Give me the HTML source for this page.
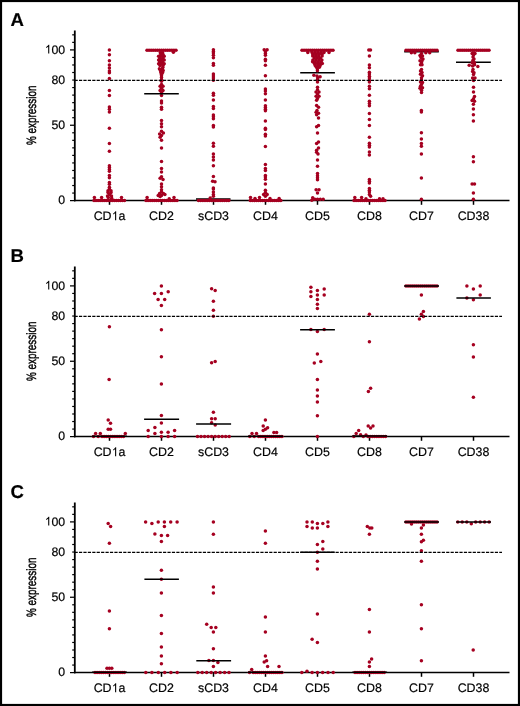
<!DOCTYPE html>
<html><head><meta charset="utf-8"><style>
html,body{margin:0;padding:0;background:#fff;}
svg{display:block;will-change:transform;}
svg text{font-family:"Liberation Sans",sans-serif;fill:#000;text-rendering:geometricPrecision;stroke:#000;stroke-width:0.18px;}
svg circle{fill:#a50020;}
</style></head><body>
<svg width="520" height="706" viewBox="0 0 520 706" font-family="Liberation Sans, sans-serif">
<g fill="#000">
<rect x="1" y="1" width="518" height="704" fill="#fff" stroke="#000" stroke-width="2.2"/>
<text x="10.5" y="25.8" font-size="18.6" font-weight="bold">A</text>
<line x1="74.8" y1="30.5" x2="74.8" y2="201.3" stroke="#000" stroke-width="1.8"/>
<line x1="70" y1="200.6" x2="75" y2="200.6" stroke="#000" stroke-width="1.25"/>
<line x1="72.2" y1="193.065" x2="75" y2="193.065" stroke="#000" stroke-width="1.2"/>
<line x1="72.2" y1="185.53" x2="75" y2="185.53" stroke="#000" stroke-width="1.2"/>
<line x1="72.2" y1="177.995" x2="75" y2="177.995" stroke="#000" stroke-width="1.2"/>
<line x1="72.2" y1="170.46" x2="75" y2="170.46" stroke="#000" stroke-width="1.2"/>
<line x1="72.2" y1="162.925" x2="75" y2="162.925" stroke="#000" stroke-width="1.2"/>
<line x1="72.2" y1="155.39" x2="75" y2="155.39" stroke="#000" stroke-width="1.2"/>
<line x1="72.2" y1="147.855" x2="75" y2="147.855" stroke="#000" stroke-width="1.2"/>
<line x1="72.2" y1="140.32" x2="75" y2="140.32" stroke="#000" stroke-width="1.2"/>
<line x1="72.2" y1="132.785" x2="75" y2="132.785" stroke="#000" stroke-width="1.2"/>
<line x1="70" y1="125.25" x2="75" y2="125.25" stroke="#000" stroke-width="1.25"/>
<line x1="72.2" y1="117.715" x2="75" y2="117.715" stroke="#000" stroke-width="1.2"/>
<line x1="72.2" y1="110.18" x2="75" y2="110.18" stroke="#000" stroke-width="1.2"/>
<line x1="72.2" y1="102.645" x2="75" y2="102.645" stroke="#000" stroke-width="1.2"/>
<line x1="72.2" y1="95.11" x2="75" y2="95.11" stroke="#000" stroke-width="1.2"/>
<line x1="72.2" y1="87.575" x2="75" y2="87.575" stroke="#000" stroke-width="1.2"/>
<line x1="72.2" y1="80.04" x2="75" y2="80.04" stroke="#000" stroke-width="1.2"/>
<line x1="72.2" y1="72.505" x2="75" y2="72.505" stroke="#000" stroke-width="1.2"/>
<line x1="72.2" y1="64.97" x2="75" y2="64.97" stroke="#000" stroke-width="1.2"/>
<line x1="72.2" y1="57.435" x2="75" y2="57.435" stroke="#000" stroke-width="1.2"/>
<line x1="70" y1="49.900000000000006" x2="75" y2="49.900000000000006" stroke="#000" stroke-width="1.25"/>
<line x1="72.2" y1="42.36500000000001" x2="75" y2="42.36500000000001" stroke="#000" stroke-width="1.2"/>
<line x1="72.2" y1="34.83000000000001" x2="75" y2="34.83000000000001" stroke="#000" stroke-width="1.2"/>
<text x="65.2" y="53.50000000000001" font-size="12.3" text-anchor="end">00</text>
<path d="M583 0L763 0L763 1466L646 1466C600 1370 510 1280 400 1200C330 1150 270 1115 240 1100L240 927C330 960 450 1030 583 1130Z" transform="translate(44.68,53.50) scale(0.00601,-0.00601)"/>
<text x="65.2" y="83.61999999999999" font-size="12.3" text-anchor="end">80</text>
<text x="65.2" y="128.8" font-size="12.3" text-anchor="end">50</text>
<text x="65.2" y="204.1" font-size="12.3" text-anchor="end">0</text>
<line x1="74" y1="200.5" x2="509.5" y2="200.5" stroke="#000" stroke-width="1.6"/>
<line x1="109.5" y1="200.5" x2="109.5" y2="204.8" stroke="#000" stroke-width="1.5"/>
<text x="93.65" y="220.2" font-size="12.4">CD</text>
<path d="M583 0L763 0L763 1466L646 1466C600 1370 510 1280 400 1200C330 1150 270 1115 240 1100L240 927C330 960 450 1030 583 1130Z" transform="translate(111.56,220.20) scale(0.00605,-0.00605)"/>
<text x="118.45" y="220.2" font-size="12.4">a</text>
<line x1="161.5" y1="200.5" x2="161.5" y2="204.8" stroke="#000" stroke-width="1.5"/>
<text x="161.5" y="220.2" font-size="12.4" text-anchor="middle">CD2</text>
<line x1="213.5" y1="200.5" x2="213.5" y2="204.8" stroke="#000" stroke-width="1.5"/>
<text x="213.5" y="220.2" font-size="12.4" text-anchor="middle">sCD3</text>
<line x1="265.5" y1="200.5" x2="265.5" y2="204.8" stroke="#000" stroke-width="1.5"/>
<text x="265.5" y="220.2" font-size="12.4" text-anchor="middle">CD4</text>
<line x1="317.5" y1="200.5" x2="317.5" y2="204.8" stroke="#000" stroke-width="1.5"/>
<text x="317.5" y="220.2" font-size="12.4" text-anchor="middle">CD5</text>
<line x1="369.5" y1="200.5" x2="369.5" y2="204.8" stroke="#000" stroke-width="1.5"/>
<text x="369.5" y="220.2" font-size="12.4" text-anchor="middle">CD8</text>
<line x1="421.5" y1="200.5" x2="421.5" y2="204.8" stroke="#000" stroke-width="1.5"/>
<text x="421.5" y="220.2" font-size="12.4" text-anchor="middle">CD7</text>
<line x1="473.5" y1="200.5" x2="473.5" y2="204.8" stroke="#000" stroke-width="1.5"/>
<text x="473.5" y="220.2" font-size="12.4" text-anchor="middle">CD38</text>
<text transform="translate(35.6,115.3) rotate(-90) scale(0.734,1)" font-size="13.5" text-anchor="middle" style="stroke-width:0.45px">% expression</text>
<line x1="404.2" y1="51.8" x2="438.8" y2="51.8" stroke="#000" stroke-width="1.5"/>
<line x1="300.2" y1="72.8" x2="334.9" y2="72.8" stroke="#000" stroke-width="1.5"/>
<line x1="456" y1="62.15" x2="490.8" y2="62.15" stroke="#000" stroke-width="1.5"/>
<line x1="196" y1="198.9" x2="230.5" y2="198.9" stroke="#000" stroke-width="1.5"/>
<circle cx="109.4" cy="49.9" r="1.75"/>
<circle cx="109.4" cy="54.8" r="1.75"/>
<circle cx="109.4" cy="60.7" r="1.75"/>
<circle cx="109.4" cy="65.1" r="1.75"/>
<circle cx="109.4" cy="67.9" r="1.75"/>
<circle cx="109.4" cy="70.9" r="1.75"/>
<circle cx="109.4" cy="72.7" r="1.75"/>
<circle cx="109.4" cy="78.4" r="1.75"/>
<circle cx="109.4" cy="90.5" r="1.75"/>
<circle cx="109.4" cy="95.4" r="1.75"/>
<circle cx="109.4" cy="106.9" r="1.75"/>
<circle cx="109.4" cy="109.2" r="1.75"/>
<circle cx="109.4" cy="112" r="1.75"/>
<circle cx="109.4" cy="128.3" r="1.75"/>
<circle cx="109.4" cy="143.5" r="1.75"/>
<circle cx="109.4" cy="151.2" r="1.75"/>
<circle cx="109.4" cy="165.8" r="1.75"/>
<circle cx="109.4" cy="167.6" r="1.75"/>
<circle cx="109.4" cy="169.4" r="1.75"/>
<circle cx="109.4" cy="171.2" r="1.75"/>
<circle cx="109.4" cy="175.4" r="1.75"/>
<circle cx="109.4" cy="177.7" r="1.75"/>
<circle cx="109.4" cy="182.5" r="1.75"/>
<circle cx="109.4" cy="184.3" r="1.75"/>
<circle cx="109.4" cy="187.3" r="1.75"/>
<circle cx="109.4" cy="189" r="1.75"/>
<circle cx="108" cy="190.8" r="1.75"/>
<circle cx="111" cy="190.8" r="1.75"/>
<circle cx="108" cy="192.6" r="1.75"/>
<circle cx="111" cy="192.6" r="1.75"/>
<circle cx="109.5" cy="194.5" r="1.75"/>
<circle cx="107.5" cy="196" r="1.75"/>
<circle cx="111.5" cy="196" r="1.75"/>
<circle cx="94.4" cy="197.6" r="1.75"/>
<circle cx="101.6" cy="197.6" r="1.75"/>
<circle cx="108.3" cy="197.6" r="1.75"/>
<circle cx="111.7" cy="198.2" r="1.75"/>
<circle cx="121.5" cy="197.6" r="1.75"/>
<circle cx="94.0" cy="200.6" r="1.75"/>
<circle cx="96.03" cy="200.6" r="1.75"/>
<circle cx="98.07" cy="200.6" r="1.75"/>
<circle cx="100.1" cy="200.6" r="1.75"/>
<circle cx="102.13" cy="200.6" r="1.75"/>
<circle cx="104.17" cy="200.6" r="1.75"/>
<circle cx="106.2" cy="200.6" r="1.75"/>
<circle cx="108.23" cy="200.6" r="1.75"/>
<circle cx="110.27" cy="200.6" r="1.75"/>
<circle cx="112.3" cy="200.6" r="1.75"/>
<circle cx="114.33" cy="200.6" r="1.75"/>
<circle cx="116.37" cy="200.6" r="1.75"/>
<circle cx="118.4" cy="200.6" r="1.75"/>
<circle cx="120.43" cy="200.6" r="1.75"/>
<circle cx="122.47" cy="200.6" r="1.75"/>
<circle cx="124.5" cy="200.6" r="1.75"/>
<circle cx="147.0" cy="50.2" r="1.75"/>
<circle cx="149.07" cy="50.2" r="1.75"/>
<circle cx="151.14" cy="50.2" r="1.75"/>
<circle cx="153.21" cy="50.2" r="1.75"/>
<circle cx="155.29" cy="50.2" r="1.75"/>
<circle cx="157.36" cy="50.2" r="1.75"/>
<circle cx="159.43" cy="50.2" r="1.75"/>
<circle cx="161.5" cy="50.2" r="1.75"/>
<circle cx="163.57" cy="50.2" r="1.75"/>
<circle cx="165.64" cy="50.2" r="1.75"/>
<circle cx="167.71" cy="50.2" r="1.75"/>
<circle cx="169.79" cy="50.2" r="1.75"/>
<circle cx="171.86" cy="50.2" r="1.75"/>
<circle cx="173.93" cy="50.2" r="1.75"/>
<circle cx="176.0" cy="50.2" r="1.75"/>
<circle cx="173.4" cy="52.2" r="1.75"/>
<circle cx="160.3" cy="52.8" r="1.75"/>
<circle cx="162.6" cy="52.8" r="1.75"/>
<circle cx="160.8" cy="54.4" r="1.75"/>
<circle cx="163" cy="54.4" r="1.75"/>
<circle cx="158.6" cy="56.3" r="1.75"/>
<circle cx="161.4" cy="56.3" r="1.75"/>
<circle cx="164.2" cy="56.3" r="1.75"/>
<circle cx="159.8" cy="58.2" r="1.75"/>
<circle cx="162.8" cy="58.2" r="1.75"/>
<circle cx="158.6" cy="60.0" r="1.75"/>
<circle cx="161.4" cy="60.0" r="1.75"/>
<circle cx="164.2" cy="60.0" r="1.75"/>
<circle cx="159.6" cy="61.9" r="1.75"/>
<circle cx="162.6" cy="61.9" r="1.75"/>
<circle cx="158.6" cy="63.7" r="1.75"/>
<circle cx="161.4" cy="63.7" r="1.75"/>
<circle cx="164.2" cy="63.7" r="1.75"/>
<circle cx="160" cy="65.6" r="1.75"/>
<circle cx="163" cy="65.6" r="1.75"/>
<circle cx="162.8" cy="67.2" r="1.75"/>
<circle cx="159.4" cy="68.8" r="1.75"/>
<circle cx="162.4" cy="68.8" r="1.75"/>
<circle cx="160.4" cy="70.6" r="1.75"/>
<circle cx="163.2" cy="70.6" r="1.75"/>
<circle cx="160.8" cy="72.4" r="1.75"/>
<circle cx="162.6" cy="72.4" r="1.75"/>
<circle cx="161.5" cy="74.2" r="1.75"/>
<circle cx="161.5" cy="75.8" r="1.75"/>
<circle cx="161.5" cy="77.6" r="1.75"/>
<circle cx="161.5" cy="79.4" r="1.75"/>
<circle cx="161.5" cy="81.2" r="1.75"/>
<circle cx="161.5" cy="84.4" r="1.75"/>
<circle cx="160.1" cy="86.3" r="1.75"/>
<circle cx="163" cy="86.3" r="1.75"/>
<circle cx="161.5" cy="88.2" r="1.75"/>
<circle cx="160.1" cy="90.6" r="1.75"/>
<circle cx="163" cy="90.6" r="1.75"/>
<circle cx="161.5" cy="92.6" r="1.75"/>
<circle cx="161.5" cy="95.5" r="1.75"/>
<circle cx="161.5" cy="101" r="1.75"/>
<circle cx="161.5" cy="102.9" r="1.75"/>
<circle cx="161.5" cy="107.3" r="1.75"/>
<circle cx="161.5" cy="109.2" r="1.75"/>
<circle cx="161.5" cy="120.5" r="1.75"/>
<circle cx="161.5" cy="123.7" r="1.75"/>
<circle cx="161.5" cy="126.7" r="1.75"/>
<circle cx="161.5" cy="131.3" r="1.75"/>
<circle cx="161.5" cy="135.4" r="1.75"/>
<circle cx="161.5" cy="140.2" r="1.75"/>
<circle cx="161.5" cy="147.9" r="1.75"/>
<circle cx="161.5" cy="161.5" r="1.75"/>
<circle cx="161.5" cy="168.6" r="1.75"/>
<circle cx="161.5" cy="171.9" r="1.75"/>
<circle cx="161.5" cy="176.7" r="1.75"/>
<circle cx="161.5" cy="184" r="1.75"/>
<circle cx="161.5" cy="186.8" r="1.75"/>
<circle cx="161.5" cy="189.7" r="1.75"/>
<circle cx="161.5" cy="192.1" r="1.75"/>
<circle cx="161.5" cy="195.5" r="1.75"/>
<circle cx="159.6" cy="133.9" r="1.75"/>
<circle cx="163.4" cy="133" r="1.75"/>
<circle cx="160.1" cy="137.3" r="1.75"/>
<circle cx="160.1" cy="178.2" r="1.75"/>
<circle cx="163" cy="179.4" r="1.75"/>
<circle cx="159.6" cy="193.6" r="1.75"/>
<circle cx="163.4" cy="193.6" r="1.75"/>
<circle cx="158.2" cy="195.5" r="1.75"/>
<circle cx="164.9" cy="194.5" r="1.75"/>
<circle cx="160.1" cy="196.4" r="1.75"/>
<circle cx="147.1" cy="197.6" r="1.75"/>
<circle cx="174" cy="197.6" r="1.75"/>
<circle cx="169.2" cy="198.8" r="1.75"/>
<circle cx="146.0" cy="200.6" r="1.75"/>
<circle cx="148.07" cy="200.6" r="1.75"/>
<circle cx="150.13" cy="200.6" r="1.75"/>
<circle cx="152.2" cy="200.6" r="1.75"/>
<circle cx="154.27" cy="200.6" r="1.75"/>
<circle cx="156.33" cy="200.6" r="1.75"/>
<circle cx="158.4" cy="200.6" r="1.75"/>
<circle cx="160.47" cy="200.6" r="1.75"/>
<circle cx="162.53" cy="200.6" r="1.75"/>
<circle cx="164.6" cy="200.6" r="1.75"/>
<circle cx="166.67" cy="200.6" r="1.75"/>
<circle cx="168.73" cy="200.6" r="1.75"/>
<circle cx="170.8" cy="200.6" r="1.75"/>
<circle cx="172.87" cy="200.6" r="1.75"/>
<circle cx="174.93" cy="200.6" r="1.75"/>
<circle cx="177.0" cy="200.6" r="1.75"/>
<circle cx="213.4" cy="49.7" r="1.75"/>
<circle cx="213.4" cy="51.4" r="1.75"/>
<circle cx="213.4" cy="53.1" r="1.75"/>
<circle cx="213.4" cy="55.3" r="1.75"/>
<circle cx="213.4" cy="57.8" r="1.75"/>
<circle cx="213.4" cy="63.5" r="1.75"/>
<circle cx="213.4" cy="65.3" r="1.75"/>
<circle cx="213.4" cy="74.1" r="1.75"/>
<circle cx="213.4" cy="76.1" r="1.75"/>
<circle cx="213.4" cy="78" r="1.75"/>
<circle cx="213.4" cy="80.3" r="1.75"/>
<circle cx="213.4" cy="93.3" r="1.75"/>
<circle cx="213.4" cy="95.2" r="1.75"/>
<circle cx="213.4" cy="99.9" r="1.75"/>
<circle cx="213.4" cy="106.6" r="1.75"/>
<circle cx="213.4" cy="108.6" r="1.75"/>
<circle cx="213.4" cy="114.9" r="1.75"/>
<circle cx="213.4" cy="116.8" r="1.75"/>
<circle cx="213.4" cy="118.8" r="1.75"/>
<circle cx="213.4" cy="125.4" r="1.75"/>
<circle cx="213.4" cy="126.9" r="1.75"/>
<circle cx="213.4" cy="143.2" r="1.75"/>
<circle cx="213.4" cy="146.2" r="1.75"/>
<circle cx="213.4" cy="153.9" r="1.75"/>
<circle cx="213.4" cy="156.9" r="1.75"/>
<circle cx="213.4" cy="159.9" r="1.75"/>
<circle cx="213.4" cy="165.8" r="1.75"/>
<circle cx="213.4" cy="176.5" r="1.75"/>
<circle cx="213.4" cy="187.9" r="1.75"/>
<circle cx="213.4" cy="189" r="1.75"/>
<circle cx="213.4" cy="192" r="1.75"/>
<circle cx="213.4" cy="194.4" r="1.75"/>
<circle cx="213.4" cy="196.2" r="1.75"/>
<circle cx="212.6" cy="181.3" r="1.75"/>
<circle cx="215" cy="181.8" r="1.75"/>
<circle cx="210.2" cy="198" r="1.75"/>
<circle cx="198.5" cy="200.6" r="1.75"/>
<circle cx="200.66" cy="200.6" r="1.75"/>
<circle cx="202.83" cy="200.6" r="1.75"/>
<circle cx="204.99" cy="200.6" r="1.75"/>
<circle cx="207.16" cy="200.6" r="1.75"/>
<circle cx="209.32" cy="200.6" r="1.75"/>
<circle cx="211.49" cy="200.6" r="1.75"/>
<circle cx="213.65" cy="200.6" r="1.75"/>
<circle cx="215.81" cy="200.6" r="1.75"/>
<circle cx="217.98" cy="200.6" r="1.75"/>
<circle cx="220.14" cy="200.6" r="1.75"/>
<circle cx="222.31" cy="200.6" r="1.75"/>
<circle cx="224.47" cy="200.6" r="1.75"/>
<circle cx="226.64" cy="200.6" r="1.75"/>
<circle cx="228.8" cy="200.6" r="1.75"/>
<circle cx="264.2" cy="49.7" r="1.75"/>
<circle cx="267.1" cy="49.7" r="1.75"/>
<circle cx="265.4" cy="51.7" r="1.75"/>
<circle cx="265.4" cy="53.6" r="1.75"/>
<circle cx="265.4" cy="55.3" r="1.75"/>
<circle cx="265.4" cy="59.3" r="1.75"/>
<circle cx="265.4" cy="60.8" r="1.75"/>
<circle cx="265.4" cy="65.2" r="1.75"/>
<circle cx="265.4" cy="75.7" r="1.75"/>
<circle cx="265.4" cy="89.1" r="1.75"/>
<circle cx="265.4" cy="91" r="1.75"/>
<circle cx="265.4" cy="93.7" r="1.75"/>
<circle cx="265.4" cy="99.9" r="1.75"/>
<circle cx="265.4" cy="105.8" r="1.75"/>
<circle cx="265.4" cy="107.5" r="1.75"/>
<circle cx="265.4" cy="109.2" r="1.75"/>
<circle cx="265.4" cy="110.7" r="1.75"/>
<circle cx="265.4" cy="120.9" r="1.75"/>
<circle cx="265.4" cy="128.3" r="1.75"/>
<circle cx="265.4" cy="129.5" r="1.75"/>
<circle cx="265.4" cy="134.3" r="1.75"/>
<circle cx="265.4" cy="136.1" r="1.75"/>
<circle cx="265.4" cy="146.4" r="1.75"/>
<circle cx="265.4" cy="164.6" r="1.75"/>
<circle cx="265.4" cy="168.6" r="1.75"/>
<circle cx="265.4" cy="170.6" r="1.75"/>
<circle cx="265.4" cy="175.4" r="1.75"/>
<circle cx="265.4" cy="177.1" r="1.75"/>
<circle cx="265.4" cy="179.2" r="1.75"/>
<circle cx="265.4" cy="184" r="1.75"/>
<circle cx="265.4" cy="190.2" r="1.75"/>
<circle cx="265.4" cy="192.4" r="1.75"/>
<circle cx="265.4" cy="196.2" r="1.75"/>
<circle cx="263.6" cy="194.4" r="1.75"/>
<circle cx="267.2" cy="194.4" r="1.75"/>
<circle cx="250.5" cy="197.4" r="1.75"/>
<circle cx="259.5" cy="197.4" r="1.75"/>
<circle cx="279.1" cy="198.6" r="1.75"/>
<circle cx="255" cy="198.6" r="1.75"/>
<circle cx="270" cy="198.6" r="1.75"/>
<circle cx="250.3" cy="200.6" r="1.75"/>
<circle cx="252.33" cy="200.6" r="1.75"/>
<circle cx="254.37" cy="200.6" r="1.75"/>
<circle cx="256.4" cy="200.6" r="1.75"/>
<circle cx="258.43" cy="200.6" r="1.75"/>
<circle cx="260.47" cy="200.6" r="1.75"/>
<circle cx="262.5" cy="200.6" r="1.75"/>
<circle cx="264.53" cy="200.6" r="1.75"/>
<circle cx="266.57" cy="200.6" r="1.75"/>
<circle cx="268.6" cy="200.6" r="1.75"/>
<circle cx="270.63" cy="200.6" r="1.75"/>
<circle cx="272.67" cy="200.6" r="1.75"/>
<circle cx="274.7" cy="200.6" r="1.75"/>
<circle cx="276.73" cy="200.6" r="1.75"/>
<circle cx="278.77" cy="200.6" r="1.75"/>
<circle cx="280.8" cy="200.6" r="1.75"/>
<circle cx="302.0" cy="50.2" r="1.75"/>
<circle cx="304.07" cy="50.2" r="1.75"/>
<circle cx="306.13" cy="50.2" r="1.75"/>
<circle cx="308.2" cy="50.2" r="1.75"/>
<circle cx="310.27" cy="50.2" r="1.75"/>
<circle cx="312.33" cy="50.2" r="1.75"/>
<circle cx="314.4" cy="50.2" r="1.75"/>
<circle cx="316.47" cy="50.2" r="1.75"/>
<circle cx="318.53" cy="50.2" r="1.75"/>
<circle cx="320.6" cy="50.2" r="1.75"/>
<circle cx="322.67" cy="50.2" r="1.75"/>
<circle cx="324.73" cy="50.2" r="1.75"/>
<circle cx="326.8" cy="50.2" r="1.75"/>
<circle cx="328.87" cy="50.2" r="1.75"/>
<circle cx="330.93" cy="50.2" r="1.75"/>
<circle cx="333.0" cy="50.2" r="1.75"/>
<circle cx="307.8" cy="52.4" r="1.75"/>
<circle cx="312" cy="52.4" r="1.75"/>
<circle cx="315" cy="52.4" r="1.75"/>
<circle cx="318" cy="52.4" r="1.75"/>
<circle cx="321" cy="52.4" r="1.75"/>
<circle cx="324" cy="52.4" r="1.75"/>
<circle cx="329" cy="52.4" r="1.75"/>
<circle cx="312.9" cy="54.2" r="1.75"/>
<circle cx="315.9" cy="54.2" r="1.75"/>
<circle cx="318.9" cy="54.2" r="1.75"/>
<circle cx="321.9" cy="54.2" r="1.75"/>
<circle cx="312.7" cy="56.0" r="1.75"/>
<circle cx="315.6" cy="56.0" r="1.75"/>
<circle cx="318.6" cy="56.0" r="1.75"/>
<circle cx="322.1" cy="56.0" r="1.75"/>
<circle cx="314.4" cy="58.0" r="1.75"/>
<circle cx="317.4" cy="58.0" r="1.75"/>
<circle cx="320.4" cy="58.0" r="1.75"/>
<circle cx="312.9" cy="59.9" r="1.75"/>
<circle cx="315.9" cy="59.9" r="1.75"/>
<circle cx="318.9" cy="59.9" r="1.75"/>
<circle cx="321.9" cy="59.9" r="1.75"/>
<circle cx="312.6" cy="61.8" r="1.75"/>
<circle cx="315.2" cy="61.8" r="1.75"/>
<circle cx="318.2" cy="61.8" r="1.75"/>
<circle cx="321.2" cy="61.8" r="1.75"/>
<circle cx="314.4" cy="63.6" r="1.75"/>
<circle cx="317.4" cy="63.6" r="1.75"/>
<circle cx="320.4" cy="63.6" r="1.75"/>
<circle cx="322.3" cy="63.6" r="1.75"/>
<circle cx="315.2" cy="65.5" r="1.75"/>
<circle cx="318.2" cy="65.5" r="1.75"/>
<circle cx="320.2" cy="65.5" r="1.75"/>
<circle cx="316.5" cy="67.3" r="1.75"/>
<circle cx="319.3" cy="67.3" r="1.75"/>
<circle cx="317.4" cy="69.1" r="1.75"/>
<circle cx="317.4" cy="70.7" r="1.75"/>
<circle cx="313.9" cy="75.2" r="1.75"/>
<circle cx="317" cy="75.9" r="1.75"/>
<circle cx="320.1" cy="76.7" r="1.75"/>
<circle cx="317.8" cy="77.8" r="1.75"/>
<circle cx="317.5" cy="79.6" r="1.75"/>
<circle cx="317.5" cy="82" r="1.75"/>
<circle cx="317.5" cy="87.3" r="1.75"/>
<circle cx="317.5" cy="89.7" r="1.75"/>
<circle cx="316" cy="92.1" r="1.75"/>
<circle cx="319" cy="92.1" r="1.75"/>
<circle cx="317.5" cy="94" r="1.75"/>
<circle cx="316.1" cy="96.2" r="1.75"/>
<circle cx="319" cy="96.2" r="1.75"/>
<circle cx="317.5" cy="98.4" r="1.75"/>
<circle cx="316.6" cy="100.3" r="1.75"/>
<circle cx="316.6" cy="105.6" r="1.75"/>
<circle cx="318.5" cy="107.3" r="1.75"/>
<circle cx="317" cy="110.4" r="1.75"/>
<circle cx="316.1" cy="112.3" r="1.75"/>
<circle cx="318.5" cy="113.3" r="1.75"/>
<circle cx="316.6" cy="114.7" r="1.75"/>
<circle cx="318.5" cy="117.9" r="1.75"/>
<circle cx="318.5" cy="125.6" r="1.75"/>
<circle cx="316.6" cy="126.7" r="1.75"/>
<circle cx="317.5" cy="133" r="1.75"/>
<circle cx="318.5" cy="141.9" r="1.75"/>
<circle cx="316.6" cy="143.6" r="1.75"/>
<circle cx="318.5" cy="147.9" r="1.75"/>
<circle cx="316.6" cy="150.3" r="1.75"/>
<circle cx="316.6" cy="152.2" r="1.75"/>
<circle cx="318" cy="154.1" r="1.75"/>
<circle cx="317.5" cy="159.9" r="1.75"/>
<circle cx="317.5" cy="166.2" r="1.75"/>
<circle cx="317.5" cy="173.4" r="1.75"/>
<circle cx="317.5" cy="175.8" r="1.75"/>
<circle cx="317.5" cy="177.7" r="1.75"/>
<circle cx="317.5" cy="179.8" r="1.75"/>
<circle cx="316.1" cy="189.7" r="1.75"/>
<circle cx="319" cy="189.7" r="1.75"/>
<circle cx="317.5" cy="193.1" r="1.75"/>
<circle cx="312.7" cy="197.7" r="1.75"/>
<circle cx="314.8" cy="199.2" r="1.75"/>
<circle cx="317.5" cy="199.2" r="1.75"/>
<circle cx="320.3" cy="199.2" r="1.75"/>
<circle cx="323.2" cy="199.2" r="1.75"/>
<circle cx="311.8" cy="200.3" r="1.75"/>
<circle cx="368.8" cy="49.9" r="1.75"/>
<circle cx="370.5" cy="49.9" r="1.75"/>
<circle cx="369.4" cy="55.9" r="1.75"/>
<circle cx="369.4" cy="65" r="1.75"/>
<circle cx="369.4" cy="67.8" r="1.75"/>
<circle cx="369.4" cy="72.3" r="1.75"/>
<circle cx="369.4" cy="74" r="1.75"/>
<circle cx="369.4" cy="76.3" r="1.75"/>
<circle cx="369.4" cy="78" r="1.75"/>
<circle cx="369.4" cy="80.3" r="1.75"/>
<circle cx="369.4" cy="82" r="1.75"/>
<circle cx="369.4" cy="86.2" r="1.75"/>
<circle cx="369.4" cy="88.8" r="1.75"/>
<circle cx="369.4" cy="95.2" r="1.75"/>
<circle cx="369.4" cy="101.3" r="1.75"/>
<circle cx="369.4" cy="103.5" r="1.75"/>
<circle cx="369.4" cy="105.8" r="1.75"/>
<circle cx="369.4" cy="113.4" r="1.75"/>
<circle cx="369.4" cy="119.4" r="1.75"/>
<circle cx="369.4" cy="125.4" r="1.75"/>
<circle cx="369.4" cy="137.3" r="1.75"/>
<circle cx="369.4" cy="143.2" r="1.75"/>
<circle cx="369.4" cy="145.2" r="1.75"/>
<circle cx="369.4" cy="147.1" r="1.75"/>
<circle cx="369.4" cy="152.1" r="1.75"/>
<circle cx="369.4" cy="155.1" r="1.75"/>
<circle cx="369.4" cy="179.5" r="1.75"/>
<circle cx="369.4" cy="181.3" r="1.75"/>
<circle cx="369.4" cy="183.1" r="1.75"/>
<circle cx="369.4" cy="188.5" r="1.75"/>
<circle cx="369.4" cy="190.2" r="1.75"/>
<circle cx="369.4" cy="192" r="1.75"/>
<circle cx="369.4" cy="194.4" r="1.75"/>
<circle cx="370.6" cy="196.2" r="1.75"/>
<circle cx="354.8" cy="197.6" r="1.75"/>
<circle cx="361.6" cy="197.6" r="1.75"/>
<circle cx="366" cy="198.8" r="1.75"/>
<circle cx="379.5" cy="198.8" r="1.75"/>
<circle cx="383" cy="198.8" r="1.75"/>
<circle cx="354.0" cy="200.6" r="1.75"/>
<circle cx="356.07" cy="200.6" r="1.75"/>
<circle cx="358.13" cy="200.6" r="1.75"/>
<circle cx="360.2" cy="200.6" r="1.75"/>
<circle cx="362.27" cy="200.6" r="1.75"/>
<circle cx="364.33" cy="200.6" r="1.75"/>
<circle cx="366.4" cy="200.6" r="1.75"/>
<circle cx="368.47" cy="200.6" r="1.75"/>
<circle cx="370.53" cy="200.6" r="1.75"/>
<circle cx="372.6" cy="200.6" r="1.75"/>
<circle cx="374.67" cy="200.6" r="1.75"/>
<circle cx="376.73" cy="200.6" r="1.75"/>
<circle cx="378.8" cy="200.6" r="1.75"/>
<circle cx="380.87" cy="200.6" r="1.75"/>
<circle cx="382.93" cy="200.6" r="1.75"/>
<circle cx="385.0" cy="200.6" r="1.75"/>
<circle cx="406.0" cy="50.2" r="1.75"/>
<circle cx="408.07" cy="50.2" r="1.75"/>
<circle cx="410.13" cy="50.2" r="1.75"/>
<circle cx="412.2" cy="50.2" r="1.75"/>
<circle cx="414.27" cy="50.2" r="1.75"/>
<circle cx="416.33" cy="50.2" r="1.75"/>
<circle cx="418.4" cy="50.2" r="1.75"/>
<circle cx="420.47" cy="50.2" r="1.75"/>
<circle cx="422.53" cy="50.2" r="1.75"/>
<circle cx="424.6" cy="50.2" r="1.75"/>
<circle cx="426.67" cy="50.2" r="1.75"/>
<circle cx="428.73" cy="50.2" r="1.75"/>
<circle cx="430.8" cy="50.2" r="1.75"/>
<circle cx="432.87" cy="50.2" r="1.75"/>
<circle cx="434.93" cy="50.2" r="1.75"/>
<circle cx="437.0" cy="50.2" r="1.75"/>
<circle cx="411.4" cy="52.7" r="1.75"/>
<circle cx="414.8" cy="52.7" r="1.75"/>
<circle cx="425.8" cy="52.7" r="1.75"/>
<circle cx="429.7" cy="52.7" r="1.75"/>
<circle cx="421.5" cy="53.6" r="1.75"/>
<circle cx="420" cy="55.5" r="1.75"/>
<circle cx="422.5" cy="56" r="1.75"/>
<circle cx="421" cy="57.5" r="1.75"/>
<circle cx="423" cy="58.9" r="1.75"/>
<circle cx="420" cy="60.8" r="1.75"/>
<circle cx="422" cy="60.8" r="1.75"/>
<circle cx="421.5" cy="62.8" r="1.75"/>
<circle cx="420.5" cy="64.7" r="1.75"/>
<circle cx="422" cy="64.7" r="1.75"/>
<circle cx="421.5" cy="69.6" r="1.75"/>
<circle cx="420.5" cy="70.9" r="1.75"/>
<circle cx="422" cy="72.4" r="1.75"/>
<circle cx="420.5" cy="74.3" r="1.75"/>
<circle cx="422.5" cy="75.7" r="1.75"/>
<circle cx="421.5" cy="77.7" r="1.75"/>
<circle cx="421.5" cy="80" r="1.75"/>
<circle cx="420.5" cy="82" r="1.75"/>
<circle cx="422.5" cy="82.5" r="1.75"/>
<circle cx="421.5" cy="84.4" r="1.75"/>
<circle cx="420.5" cy="86.3" r="1.75"/>
<circle cx="422.5" cy="87.8" r="1.75"/>
<circle cx="420" cy="88.2" r="1.75"/>
<circle cx="421.5" cy="90.2" r="1.75"/>
<circle cx="421.5" cy="92.6" r="1.75"/>
<circle cx="421.4" cy="110.4" r="1.75"/>
<circle cx="421.4" cy="112" r="1.75"/>
<circle cx="421.4" cy="132.8" r="1.75"/>
<circle cx="421.4" cy="139" r="1.75"/>
<circle cx="421.4" cy="143.6" r="1.75"/>
<circle cx="421.4" cy="146.2" r="1.75"/>
<circle cx="421.4" cy="154" r="1.75"/>
<circle cx="421.4" cy="178" r="1.75"/>
<circle cx="421.4" cy="199.2" r="1.75"/>
<circle cx="458.0" cy="50.2" r="1.75"/>
<circle cx="460.07" cy="50.2" r="1.75"/>
<circle cx="462.13" cy="50.2" r="1.75"/>
<circle cx="464.2" cy="50.2" r="1.75"/>
<circle cx="466.27" cy="50.2" r="1.75"/>
<circle cx="468.33" cy="50.2" r="1.75"/>
<circle cx="470.4" cy="50.2" r="1.75"/>
<circle cx="472.47" cy="50.2" r="1.75"/>
<circle cx="474.53" cy="50.2" r="1.75"/>
<circle cx="476.6" cy="50.2" r="1.75"/>
<circle cx="478.67" cy="50.2" r="1.75"/>
<circle cx="480.73" cy="50.2" r="1.75"/>
<circle cx="482.8" cy="50.2" r="1.75"/>
<circle cx="484.87" cy="50.2" r="1.75"/>
<circle cx="486.93" cy="50.2" r="1.75"/>
<circle cx="489.0" cy="50.2" r="1.75"/>
<circle cx="473.5" cy="53.1" r="1.75"/>
<circle cx="472.1" cy="53.6" r="1.75"/>
<circle cx="475" cy="53.6" r="1.75"/>
<circle cx="473.5" cy="55.1" r="1.75"/>
<circle cx="473" cy="57" r="1.75"/>
<circle cx="474" cy="58.9" r="1.75"/>
<circle cx="473" cy="60.3" r="1.75"/>
<circle cx="472.1" cy="62.8" r="1.75"/>
<circle cx="474.5" cy="62.8" r="1.75"/>
<circle cx="474.5" cy="64.7" r="1.75"/>
<circle cx="469.2" cy="65.2" r="1.75"/>
<circle cx="472.6" cy="66.1" r="1.75"/>
<circle cx="477.8" cy="66.6" r="1.75"/>
<circle cx="473" cy="69.5" r="1.75"/>
<circle cx="472.6" cy="71.4" r="1.75"/>
<circle cx="474" cy="72.8" r="1.75"/>
<circle cx="473.5" cy="74.6" r="1.75"/>
<circle cx="472.6" cy="78.1" r="1.75"/>
<circle cx="475" cy="78.1" r="1.75"/>
<circle cx="473.5" cy="80.5" r="1.75"/>
<circle cx="473.5" cy="87.3" r="1.75"/>
<circle cx="473.5" cy="92.1" r="1.75"/>
<circle cx="474.5" cy="96.6" r="1.75"/>
<circle cx="473.5" cy="98.8" r="1.75"/>
<circle cx="472.1" cy="100.4" r="1.75"/>
<circle cx="474.5" cy="101.2" r="1.75"/>
<circle cx="473.4" cy="104.3" r="1.75"/>
<circle cx="473.4" cy="108.9" r="1.75"/>
<circle cx="473.4" cy="114.8" r="1.75"/>
<circle cx="473.4" cy="120.9" r="1.75"/>
<circle cx="473.4" cy="156.7" r="1.75"/>
<circle cx="473.4" cy="161.7" r="1.75"/>
<circle cx="472.1" cy="184" r="1.75"/>
<circle cx="474.5" cy="184" r="1.75"/>
<circle cx="473.4" cy="193" r="1.75"/>
<circle cx="473.4" cy="199.2" r="1.75"/>
<line x1="144.2" y1="93.85" x2="178.8" y2="93.85" stroke="#000" stroke-width="1.5"/>
<line x1="75" y1="80.4" x2="502" y2="80.4" stroke="#000" stroke-width="1.25" stroke-dasharray="3.2 1.224" stroke-dashoffset="0.45"/>
<text x="10.5" y="261.8" font-size="18.6" font-weight="bold">B</text>
<line x1="74.8" y1="266.5" x2="74.8" y2="437.3" stroke="#000" stroke-width="1.8"/>
<line x1="70" y1="436.6" x2="75" y2="436.6" stroke="#000" stroke-width="1.25"/>
<line x1="72.2" y1="429.065" x2="75" y2="429.065" stroke="#000" stroke-width="1.2"/>
<line x1="72.2" y1="421.53000000000003" x2="75" y2="421.53000000000003" stroke="#000" stroke-width="1.2"/>
<line x1="72.2" y1="413.995" x2="75" y2="413.995" stroke="#000" stroke-width="1.2"/>
<line x1="72.2" y1="406.46000000000004" x2="75" y2="406.46000000000004" stroke="#000" stroke-width="1.2"/>
<line x1="72.2" y1="398.925" x2="75" y2="398.925" stroke="#000" stroke-width="1.2"/>
<line x1="72.2" y1="391.39000000000004" x2="75" y2="391.39000000000004" stroke="#000" stroke-width="1.2"/>
<line x1="72.2" y1="383.855" x2="75" y2="383.855" stroke="#000" stroke-width="1.2"/>
<line x1="72.2" y1="376.32000000000005" x2="75" y2="376.32000000000005" stroke="#000" stroke-width="1.2"/>
<line x1="72.2" y1="368.785" x2="75" y2="368.785" stroke="#000" stroke-width="1.2"/>
<line x1="70" y1="361.25" x2="75" y2="361.25" stroke="#000" stroke-width="1.25"/>
<line x1="72.2" y1="353.71500000000003" x2="75" y2="353.71500000000003" stroke="#000" stroke-width="1.2"/>
<line x1="72.2" y1="346.18000000000006" x2="75" y2="346.18000000000006" stroke="#000" stroke-width="1.2"/>
<line x1="72.2" y1="338.64500000000004" x2="75" y2="338.64500000000004" stroke="#000" stroke-width="1.2"/>
<line x1="72.2" y1="331.11" x2="75" y2="331.11" stroke="#000" stroke-width="1.2"/>
<line x1="72.2" y1="323.57500000000005" x2="75" y2="323.57500000000005" stroke="#000" stroke-width="1.2"/>
<line x1="72.2" y1="316.04" x2="75" y2="316.04" stroke="#000" stroke-width="1.2"/>
<line x1="72.2" y1="308.505" x2="75" y2="308.505" stroke="#000" stroke-width="1.2"/>
<line x1="72.2" y1="300.97" x2="75" y2="300.97" stroke="#000" stroke-width="1.2"/>
<line x1="72.2" y1="293.43500000000006" x2="75" y2="293.43500000000006" stroke="#000" stroke-width="1.2"/>
<line x1="70" y1="285.90000000000003" x2="75" y2="285.90000000000003" stroke="#000" stroke-width="1.25"/>
<line x1="72.2" y1="278.365" x2="75" y2="278.365" stroke="#000" stroke-width="1.2"/>
<line x1="72.2" y1="270.83000000000004" x2="75" y2="270.83000000000004" stroke="#000" stroke-width="1.2"/>
<text x="65.2" y="289.5" font-size="12.3" text-anchor="end">00</text>
<path d="M583 0L763 0L763 1466L646 1466C600 1370 510 1280 400 1200C330 1150 270 1115 240 1100L240 927C330 960 450 1030 583 1130Z" transform="translate(44.68,289.50) scale(0.00601,-0.00601)"/>
<text x="65.2" y="319.62" font-size="12.3" text-anchor="end">80</text>
<text x="65.2" y="364.8" font-size="12.3" text-anchor="end">50</text>
<text x="65.2" y="440.1" font-size="12.3" text-anchor="end">0</text>
<line x1="74" y1="436.5" x2="509.5" y2="436.5" stroke="#000" stroke-width="1.6"/>
<line x1="109.5" y1="436.5" x2="109.5" y2="440.8" stroke="#000" stroke-width="1.5"/>
<text x="93.65" y="456.2" font-size="12.4">CD</text>
<path d="M583 0L763 0L763 1466L646 1466C600 1370 510 1280 400 1200C330 1150 270 1115 240 1100L240 927C330 960 450 1030 583 1130Z" transform="translate(111.56,456.20) scale(0.00605,-0.00605)"/>
<text x="118.45" y="456.2" font-size="12.4">a</text>
<line x1="161.5" y1="436.5" x2="161.5" y2="440.8" stroke="#000" stroke-width="1.5"/>
<text x="161.5" y="456.2" font-size="12.4" text-anchor="middle">CD2</text>
<line x1="213.5" y1="436.5" x2="213.5" y2="440.8" stroke="#000" stroke-width="1.5"/>
<text x="213.5" y="456.2" font-size="12.4" text-anchor="middle">sCD3</text>
<line x1="265.5" y1="436.5" x2="265.5" y2="440.8" stroke="#000" stroke-width="1.5"/>
<text x="265.5" y="456.2" font-size="12.4" text-anchor="middle">CD4</text>
<line x1="317.5" y1="436.5" x2="317.5" y2="440.8" stroke="#000" stroke-width="1.5"/>
<text x="317.5" y="456.2" font-size="12.4" text-anchor="middle">CD5</text>
<line x1="369.5" y1="436.5" x2="369.5" y2="440.8" stroke="#000" stroke-width="1.5"/>
<text x="369.5" y="456.2" font-size="12.4" text-anchor="middle">CD8</text>
<line x1="421.5" y1="436.5" x2="421.5" y2="440.8" stroke="#000" stroke-width="1.5"/>
<text x="421.5" y="456.2" font-size="12.4" text-anchor="middle">CD7</text>
<line x1="473.5" y1="436.5" x2="473.5" y2="440.8" stroke="#000" stroke-width="1.5"/>
<text x="473.5" y="456.2" font-size="12.4" text-anchor="middle">CD38</text>
<text transform="translate(35.6,351.3) rotate(-90) scale(0.734,1)" font-size="13.5" text-anchor="middle" style="stroke-width:0.45px">% expression</text>
<circle cx="109.4" cy="326.8" r="1.75"/>
<circle cx="109.1" cy="379.5" r="1.75"/>
<circle cx="108.2" cy="419.9" r="1.75"/>
<circle cx="110.5" cy="423.2" r="1.75"/>
<circle cx="108.2" cy="429.2" r="1.75"/>
<circle cx="110.5" cy="429.2" r="1.75"/>
<circle cx="95.6" cy="433.5" r="1.75"/>
<circle cx="100.3" cy="433.5" r="1.75"/>
<circle cx="125.3" cy="433.5" r="1.75"/>
<circle cx="93.5" cy="436.6" r="1.75"/>
<circle cx="98.2" cy="436.6" r="1.75"/>
<circle cx="102.0" cy="436.6" r="1.75"/>
<circle cx="104.15" cy="436.6" r="1.75"/>
<circle cx="106.3" cy="436.6" r="1.75"/>
<circle cx="108.45" cy="436.6" r="1.75"/>
<circle cx="110.6" cy="436.6" r="1.75"/>
<circle cx="112.75" cy="436.6" r="1.75"/>
<circle cx="114.9" cy="436.6" r="1.75"/>
<circle cx="117.05" cy="436.6" r="1.75"/>
<circle cx="119.2" cy="436.6" r="1.75"/>
<circle cx="121.35" cy="436.6" r="1.75"/>
<circle cx="123.5" cy="436.6" r="1.75"/>
<circle cx="161.4" cy="286.1" r="1.75"/>
<circle cx="154.6" cy="293.6" r="1.75"/>
<circle cx="161.4" cy="293.6" r="1.75"/>
<circle cx="168.2" cy="291.8" r="1.75"/>
<circle cx="158.1" cy="299.6" r="1.75"/>
<circle cx="164.7" cy="299.6" r="1.75"/>
<circle cx="161.4" cy="305.5" r="1.75"/>
<circle cx="161.4" cy="329.8" r="1.75"/>
<circle cx="161.4" cy="356.8" r="1.75"/>
<circle cx="161.4" cy="384" r="1.75"/>
<circle cx="161.4" cy="415.5" r="1.75"/>
<circle cx="161.4" cy="423.1" r="1.75"/>
<circle cx="154.9" cy="427.6" r="1.75"/>
<circle cx="148.2" cy="430.6" r="1.75"/>
<circle cx="174.6" cy="430.6" r="1.75"/>
<circle cx="154.9" cy="433.6" r="1.75"/>
<circle cx="161.4" cy="432.2" r="1.75"/>
<circle cx="168.1" cy="432.2" r="1.75"/>
<circle cx="148.2" cy="436.6" r="1.75"/>
<circle cx="161.4" cy="436.6" r="1.75"/>
<circle cx="168.1" cy="436.6" r="1.75"/>
<circle cx="174.6" cy="436.6" r="1.75"/>
<circle cx="211.6" cy="288.7" r="1.75"/>
<circle cx="215.2" cy="290.5" r="1.75"/>
<circle cx="213.4" cy="301.2" r="1.75"/>
<circle cx="213.4" cy="310.3" r="1.75"/>
<circle cx="213.4" cy="316.2" r="1.75"/>
<circle cx="211.6" cy="362.7" r="1.75"/>
<circle cx="215.2" cy="361.5" r="1.75"/>
<circle cx="213.4" cy="412.3" r="1.75"/>
<circle cx="211.6" cy="418.8" r="1.75"/>
<circle cx="215.2" cy="418.8" r="1.75"/>
<circle cx="211.6" cy="422.8" r="1.75"/>
<circle cx="215.2" cy="424.9" r="1.75"/>
<circle cx="197.5" cy="436.4" r="1.75"/>
<circle cx="201.02" cy="436.4" r="1.75"/>
<circle cx="204.54" cy="436.4" r="1.75"/>
<circle cx="208.07" cy="436.4" r="1.75"/>
<circle cx="211.59" cy="436.4" r="1.75"/>
<circle cx="215.11" cy="436.4" r="1.75"/>
<circle cx="218.63" cy="436.4" r="1.75"/>
<circle cx="222.16" cy="436.4" r="1.75"/>
<circle cx="225.68" cy="436.4" r="1.75"/>
<circle cx="229.2" cy="436.4" r="1.75"/>
<circle cx="265.4" cy="420" r="1.75"/>
<circle cx="263.2" cy="426.1" r="1.75"/>
<circle cx="267.6" cy="427.7" r="1.75"/>
<circle cx="265.4" cy="429.2" r="1.75"/>
<circle cx="263.2" cy="430.6" r="1.75"/>
<circle cx="273.9" cy="432.5" r="1.75"/>
<circle cx="276.6" cy="432.5" r="1.75"/>
<circle cx="252" cy="433.4" r="1.75"/>
<circle cx="256.5" cy="433.4" r="1.75"/>
<circle cx="249.8" cy="436.6" r="1.75"/>
<circle cx="254.2" cy="436.6" r="1.75"/>
<circle cx="258.7" cy="436.6" r="1.75"/>
<circle cx="260.81" cy="436.6" r="1.75"/>
<circle cx="262.92" cy="436.6" r="1.75"/>
<circle cx="265.03" cy="436.6" r="1.75"/>
<circle cx="267.14" cy="436.6" r="1.75"/>
<circle cx="269.25" cy="436.6" r="1.75"/>
<circle cx="271.35" cy="436.6" r="1.75"/>
<circle cx="273.46" cy="436.6" r="1.75"/>
<circle cx="275.57" cy="436.6" r="1.75"/>
<circle cx="277.68" cy="436.6" r="1.75"/>
<circle cx="279.79" cy="436.6" r="1.75"/>
<circle cx="281.9" cy="436.6" r="1.75"/>
<circle cx="310.9" cy="287.3" r="1.75"/>
<circle cx="310.9" cy="291.8" r="1.75"/>
<circle cx="310.9" cy="296.5" r="1.75"/>
<circle cx="317.4" cy="290.5" r="1.75"/>
<circle cx="317.4" cy="295" r="1.75"/>
<circle cx="317.4" cy="299.6" r="1.75"/>
<circle cx="317.4" cy="304.2" r="1.75"/>
<circle cx="317.4" cy="308.5" r="1.75"/>
<circle cx="324.2" cy="288.9" r="1.75"/>
<circle cx="324.2" cy="295" r="1.75"/>
<circle cx="310.9" cy="329.6" r="1.75"/>
<circle cx="317.4" cy="331.4" r="1.75"/>
<circle cx="324.2" cy="329.6" r="1.75"/>
<circle cx="317.4" cy="354" r="1.75"/>
<circle cx="314.3" cy="363" r="1.75"/>
<circle cx="320.8" cy="361.5" r="1.75"/>
<circle cx="317.4" cy="379.4" r="1.75"/>
<circle cx="317.4" cy="389.9" r="1.75"/>
<circle cx="317.4" cy="396" r="1.75"/>
<circle cx="317.4" cy="402.1" r="1.75"/>
<circle cx="317.4" cy="415.8" r="1.75"/>
<circle cx="317.4" cy="436.6" r="1.75"/>
<circle cx="369.4" cy="314.3" r="1.75"/>
<circle cx="369.4" cy="341.7" r="1.75"/>
<circle cx="368.4" cy="391.6" r="1.75"/>
<circle cx="370.6" cy="388.3" r="1.75"/>
<circle cx="368.2" cy="426.1" r="1.75"/>
<circle cx="373" cy="426.1" r="1.75"/>
<circle cx="370.6" cy="428" r="1.75"/>
<circle cx="358.7" cy="430.4" r="1.75"/>
<circle cx="356.2" cy="433.4" r="1.75"/>
<circle cx="360.6" cy="434.7" r="1.75"/>
<circle cx="353.8" cy="436.6" r="1.75"/>
<circle cx="363.3" cy="436.6" r="1.75"/>
<circle cx="366" cy="435" r="1.75"/>
<circle cx="368.0" cy="436.6" r="1.75"/>
<circle cx="370.19" cy="436.6" r="1.75"/>
<circle cx="372.38" cy="436.6" r="1.75"/>
<circle cx="374.56" cy="436.6" r="1.75"/>
<circle cx="376.75" cy="436.6" r="1.75"/>
<circle cx="378.94" cy="436.6" r="1.75"/>
<circle cx="381.12" cy="436.6" r="1.75"/>
<circle cx="383.31" cy="436.6" r="1.75"/>
<circle cx="385.5" cy="436.6" r="1.75"/>
<circle cx="406.0" cy="286.1" r="1.75"/>
<circle cx="408.07" cy="286.1" r="1.75"/>
<circle cx="410.13" cy="286.1" r="1.75"/>
<circle cx="412.2" cy="286.1" r="1.75"/>
<circle cx="414.27" cy="286.1" r="1.75"/>
<circle cx="416.33" cy="286.1" r="1.75"/>
<circle cx="418.4" cy="286.1" r="1.75"/>
<circle cx="420.47" cy="286.1" r="1.75"/>
<circle cx="422.53" cy="286.1" r="1.75"/>
<circle cx="424.6" cy="286.1" r="1.75"/>
<circle cx="426.67" cy="286.1" r="1.75"/>
<circle cx="428.73" cy="286.1" r="1.75"/>
<circle cx="430.8" cy="286.1" r="1.75"/>
<circle cx="432.87" cy="286.1" r="1.75"/>
<circle cx="434.93" cy="286.1" r="1.75"/>
<circle cx="437.0" cy="286.1" r="1.75"/>
<circle cx="421.4" cy="295" r="1.75"/>
<circle cx="423.4" cy="311.5" r="1.75"/>
<circle cx="421.4" cy="314.3" r="1.75"/>
<circle cx="423.4" cy="316.5" r="1.75"/>
<circle cx="419.4" cy="319.1" r="1.75"/>
<circle cx="466.9" cy="286.1" r="1.75"/>
<circle cx="480.2" cy="286.1" r="1.75"/>
<circle cx="473.4" cy="288.9" r="1.75"/>
<circle cx="480.2" cy="295" r="1.75"/>
<circle cx="466.9" cy="298" r="1.75"/>
<circle cx="473.4" cy="299.8" r="1.75"/>
<circle cx="473.4" cy="344.8" r="1.75"/>
<circle cx="473.4" cy="357" r="1.75"/>
<circle cx="473.4" cy="397.3" r="1.75"/>
<line x1="92" y1="436.2" x2="127" y2="436.2" stroke="#000" stroke-width="1.5"/>
<line x1="144.1" y1="419.2" x2="179.1" y2="419.2" stroke="#000" stroke-width="1.5"/>
<line x1="196.1" y1="423.9" x2="231.1" y2="423.9" stroke="#000" stroke-width="1.5"/>
<line x1="248" y1="436.2" x2="283" y2="436.2" stroke="#000" stroke-width="1.5"/>
<line x1="300.1" y1="329.8" x2="334.9" y2="329.8" stroke="#000" stroke-width="1.5"/>
<line x1="352.3" y1="435.9" x2="387.1" y2="435.9" stroke="#000" stroke-width="1.5"/>
<line x1="404.2" y1="286.1" x2="439" y2="286.1" stroke="#000" stroke-width="1.5"/>
<line x1="456.4" y1="298" x2="490.9" y2="298" stroke="#000" stroke-width="1.5"/>
<line x1="75" y1="316.4" x2="502" y2="316.4" stroke="#000" stroke-width="1.25" stroke-dasharray="3.2 1.224" stroke-dashoffset="0.45"/>
<text x="10.5" y="497.8" font-size="18.6" font-weight="bold">C</text>
<line x1="74.8" y1="502.5" x2="74.8" y2="673.3" stroke="#000" stroke-width="1.8"/>
<line x1="70" y1="672.6" x2="75" y2="672.6" stroke="#000" stroke-width="1.25"/>
<line x1="72.2" y1="665.065" x2="75" y2="665.065" stroke="#000" stroke-width="1.2"/>
<line x1="72.2" y1="657.53" x2="75" y2="657.53" stroke="#000" stroke-width="1.2"/>
<line x1="72.2" y1="649.995" x2="75" y2="649.995" stroke="#000" stroke-width="1.2"/>
<line x1="72.2" y1="642.46" x2="75" y2="642.46" stroke="#000" stroke-width="1.2"/>
<line x1="72.2" y1="634.9250000000001" x2="75" y2="634.9250000000001" stroke="#000" stroke-width="1.2"/>
<line x1="72.2" y1="627.39" x2="75" y2="627.39" stroke="#000" stroke-width="1.2"/>
<line x1="72.2" y1="619.855" x2="75" y2="619.855" stroke="#000" stroke-width="1.2"/>
<line x1="72.2" y1="612.32" x2="75" y2="612.32" stroke="#000" stroke-width="1.2"/>
<line x1="72.2" y1="604.7850000000001" x2="75" y2="604.7850000000001" stroke="#000" stroke-width="1.2"/>
<line x1="70" y1="597.25" x2="75" y2="597.25" stroke="#000" stroke-width="1.25"/>
<line x1="72.2" y1="589.715" x2="75" y2="589.715" stroke="#000" stroke-width="1.2"/>
<line x1="72.2" y1="582.1800000000001" x2="75" y2="582.1800000000001" stroke="#000" stroke-width="1.2"/>
<line x1="72.2" y1="574.645" x2="75" y2="574.645" stroke="#000" stroke-width="1.2"/>
<line x1="72.2" y1="567.11" x2="75" y2="567.11" stroke="#000" stroke-width="1.2"/>
<line x1="72.2" y1="559.575" x2="75" y2="559.575" stroke="#000" stroke-width="1.2"/>
<line x1="72.2" y1="552.0400000000001" x2="75" y2="552.0400000000001" stroke="#000" stroke-width="1.2"/>
<line x1="72.2" y1="544.505" x2="75" y2="544.505" stroke="#000" stroke-width="1.2"/>
<line x1="72.2" y1="536.97" x2="75" y2="536.97" stroke="#000" stroke-width="1.2"/>
<line x1="72.2" y1="529.4350000000001" x2="75" y2="529.4350000000001" stroke="#000" stroke-width="1.2"/>
<line x1="70" y1="521.9000000000001" x2="75" y2="521.9000000000001" stroke="#000" stroke-width="1.25"/>
<line x1="72.2" y1="514.365" x2="75" y2="514.365" stroke="#000" stroke-width="1.2"/>
<line x1="72.2" y1="506.83000000000004" x2="75" y2="506.83000000000004" stroke="#000" stroke-width="1.2"/>
<text x="65.2" y="525.5" font-size="12.3" text-anchor="end">00</text>
<path d="M583 0L763 0L763 1466L646 1466C600 1370 510 1280 400 1200C330 1150 270 1115 240 1100L240 927C330 960 450 1030 583 1130Z" transform="translate(44.68,525.50) scale(0.00601,-0.00601)"/>
<text x="65.2" y="555.62" font-size="12.3" text-anchor="end">80</text>
<text x="65.2" y="600.8000000000001" font-size="12.3" text-anchor="end">50</text>
<text x="65.2" y="676.1" font-size="12.3" text-anchor="end">0</text>
<line x1="74" y1="672.5" x2="509.5" y2="672.5" stroke="#000" stroke-width="1.6"/>
<line x1="109.5" y1="672.5" x2="109.5" y2="676.8" stroke="#000" stroke-width="1.5"/>
<text x="93.65" y="692.2" font-size="12.4">CD</text>
<path d="M583 0L763 0L763 1466L646 1466C600 1370 510 1280 400 1200C330 1150 270 1115 240 1100L240 927C330 960 450 1030 583 1130Z" transform="translate(111.56,692.20) scale(0.00605,-0.00605)"/>
<text x="118.45" y="692.2" font-size="12.4">a</text>
<line x1="161.5" y1="672.5" x2="161.5" y2="676.8" stroke="#000" stroke-width="1.5"/>
<text x="161.5" y="692.2" font-size="12.4" text-anchor="middle">CD2</text>
<line x1="213.5" y1="672.5" x2="213.5" y2="676.8" stroke="#000" stroke-width="1.5"/>
<text x="213.5" y="692.2" font-size="12.4" text-anchor="middle">sCD3</text>
<line x1="265.5" y1="672.5" x2="265.5" y2="676.8" stroke="#000" stroke-width="1.5"/>
<text x="265.5" y="692.2" font-size="12.4" text-anchor="middle">CD4</text>
<line x1="317.5" y1="672.5" x2="317.5" y2="676.8" stroke="#000" stroke-width="1.5"/>
<text x="317.5" y="692.2" font-size="12.4" text-anchor="middle">CD5</text>
<line x1="369.5" y1="672.5" x2="369.5" y2="676.8" stroke="#000" stroke-width="1.5"/>
<text x="369.5" y="692.2" font-size="12.4" text-anchor="middle">CD8</text>
<line x1="421.5" y1="672.5" x2="421.5" y2="676.8" stroke="#000" stroke-width="1.5"/>
<text x="421.5" y="692.2" font-size="12.4" text-anchor="middle">CD7</text>
<line x1="473.5" y1="672.5" x2="473.5" y2="676.8" stroke="#000" stroke-width="1.5"/>
<text x="473.5" y="692.2" font-size="12.4" text-anchor="middle">CD38</text>
<text transform="translate(35.6,587.3) rotate(-90) scale(0.734,1)" font-size="13.5" text-anchor="middle" style="stroke-width:0.45px">% expression</text>
<circle cx="108.2" cy="523.5" r="1.75"/>
<circle cx="110.6" cy="526.6" r="1.75"/>
<circle cx="109.4" cy="543.2" r="1.75"/>
<circle cx="109.4" cy="610.9" r="1.75"/>
<circle cx="109.4" cy="628.8" r="1.75"/>
<circle cx="107" cy="668.2" r="1.75"/>
<circle cx="109.4" cy="668.2" r="1.75"/>
<circle cx="111.8" cy="668.2" r="1.75"/>
<circle cx="95.0" cy="672.6" r="1.75"/>
<circle cx="97.09" cy="672.6" r="1.75"/>
<circle cx="99.19" cy="672.6" r="1.75"/>
<circle cx="101.28" cy="672.6" r="1.75"/>
<circle cx="103.37" cy="672.6" r="1.75"/>
<circle cx="105.46" cy="672.6" r="1.75"/>
<circle cx="107.56" cy="672.6" r="1.75"/>
<circle cx="109.65" cy="672.6" r="1.75"/>
<circle cx="111.74" cy="672.6" r="1.75"/>
<circle cx="113.84" cy="672.6" r="1.75"/>
<circle cx="115.93" cy="672.6" r="1.75"/>
<circle cx="118.02" cy="672.6" r="1.75"/>
<circle cx="120.11" cy="672.6" r="1.75"/>
<circle cx="122.21" cy="672.6" r="1.75"/>
<circle cx="124.3" cy="672.6" r="1.75"/>
<circle cx="145.6" cy="522.1" r="1.75"/>
<circle cx="158.2" cy="522.1" r="1.75"/>
<circle cx="164.4" cy="522.1" r="1.75"/>
<circle cx="170.7" cy="522.1" r="1.75"/>
<circle cx="177.1" cy="522.1" r="1.75"/>
<circle cx="151.9" cy="523.5" r="1.75"/>
<circle cx="164.4" cy="526.6" r="1.75"/>
<circle cx="154.9" cy="534" r="1.75"/>
<circle cx="161.4" cy="535.6" r="1.75"/>
<circle cx="167.6" cy="535.6" r="1.75"/>
<circle cx="161.4" cy="541.5" r="1.75"/>
<circle cx="161.4" cy="570.3" r="1.75"/>
<circle cx="161.4" cy="579.3" r="1.75"/>
<circle cx="161.4" cy="593" r="1.75"/>
<circle cx="161.4" cy="615.4" r="1.75"/>
<circle cx="161.4" cy="633.5" r="1.75"/>
<circle cx="161.4" cy="647.1" r="1.75"/>
<circle cx="161.4" cy="656" r="1.75"/>
<circle cx="161.4" cy="663.7" r="1.75"/>
<circle cx="145.8" cy="672.6" r="1.75"/>
<circle cx="151.9" cy="672.6" r="1.75"/>
<circle cx="158.3" cy="672.6" r="1.75"/>
<circle cx="164.7" cy="672.6" r="1.75"/>
<circle cx="170.9" cy="672.6" r="1.75"/>
<circle cx="177.2" cy="672.6" r="1.75"/>
<circle cx="213.4" cy="522.1" r="1.75"/>
<circle cx="213.4" cy="534.3" r="1.75"/>
<circle cx="213.4" cy="587" r="1.75"/>
<circle cx="213.4" cy="593" r="1.75"/>
<circle cx="206.7" cy="624.3" r="1.75"/>
<circle cx="211.2" cy="627.6" r="1.75"/>
<circle cx="215.8" cy="627.6" r="1.75"/>
<circle cx="213.4" cy="632" r="1.75"/>
<circle cx="213.4" cy="648.7" r="1.75"/>
<circle cx="208.9" cy="660.5" r="1.75"/>
<circle cx="213.4" cy="660.5" r="1.75"/>
<circle cx="217.9" cy="662.4" r="1.75"/>
<circle cx="213.4" cy="666.6" r="1.75"/>
<circle cx="197.8" cy="672.6" r="1.75"/>
<circle cx="202.2" cy="672.6" r="1.75"/>
<circle cx="206.7" cy="672.6" r="1.75"/>
<circle cx="211.2" cy="672.6" r="1.75"/>
<circle cx="215.6" cy="672.6" r="1.75"/>
<circle cx="220.1" cy="672.6" r="1.75"/>
<circle cx="224.6" cy="672.6" r="1.75"/>
<circle cx="229" cy="672.6" r="1.75"/>
<circle cx="265.4" cy="531" r="1.75"/>
<circle cx="265.4" cy="543.2" r="1.75"/>
<circle cx="265.4" cy="617" r="1.75"/>
<circle cx="265.4" cy="632" r="1.75"/>
<circle cx="265.4" cy="656" r="1.75"/>
<circle cx="266.6" cy="660.7" r="1.75"/>
<circle cx="264.2" cy="662.1" r="1.75"/>
<circle cx="267.6" cy="666.6" r="1.75"/>
<circle cx="279" cy="666.6" r="1.75"/>
<circle cx="251.7" cy="669.4" r="1.75"/>
<circle cx="249.5" cy="672.6" r="1.75"/>
<circle cx="253.2" cy="672.6" r="1.75"/>
<circle cx="255.25" cy="672.6" r="1.75"/>
<circle cx="257.3" cy="672.6" r="1.75"/>
<circle cx="259.35" cy="672.6" r="1.75"/>
<circle cx="261.4" cy="672.6" r="1.75"/>
<circle cx="263.45" cy="672.6" r="1.75"/>
<circle cx="265.5" cy="672.6" r="1.75"/>
<circle cx="267.55" cy="672.6" r="1.75"/>
<circle cx="269.6" cy="672.6" r="1.75"/>
<circle cx="271.65" cy="672.6" r="1.75"/>
<circle cx="273.7" cy="672.6" r="1.75"/>
<circle cx="275.75" cy="672.6" r="1.75"/>
<circle cx="277.8" cy="672.6" r="1.75"/>
<circle cx="279.85" cy="672.6" r="1.75"/>
<circle cx="281.9" cy="672.6" r="1.75"/>
<circle cx="307" cy="522.1" r="1.75"/>
<circle cx="312.3" cy="522.1" r="1.75"/>
<circle cx="317.4" cy="523.5" r="1.75"/>
<circle cx="322.8" cy="523.5" r="1.75"/>
<circle cx="327.9" cy="522.1" r="1.75"/>
<circle cx="307" cy="526.6" r="1.75"/>
<circle cx="312.3" cy="528.1" r="1.75"/>
<circle cx="317.4" cy="528.1" r="1.75"/>
<circle cx="327.9" cy="526.6" r="1.75"/>
<circle cx="322.8" cy="541.5" r="1.75"/>
<circle cx="317.4" cy="544.5" r="1.75"/>
<circle cx="322.8" cy="549.1" r="1.75"/>
<circle cx="317.4" cy="552.2" r="1.75"/>
<circle cx="317.4" cy="561.2" r="1.75"/>
<circle cx="317.4" cy="568.9" r="1.75"/>
<circle cx="317.4" cy="614" r="1.75"/>
<circle cx="312.1" cy="639.3" r="1.75"/>
<circle cx="317.4" cy="642.4" r="1.75"/>
<circle cx="307" cy="671.3" r="1.75"/>
<circle cx="301.8" cy="672.6" r="1.75"/>
<circle cx="312.1" cy="672.6" r="1.75"/>
<circle cx="317.4" cy="672.6" r="1.75"/>
<circle cx="322.6" cy="672.6" r="1.75"/>
<circle cx="328" cy="672.6" r="1.75"/>
<circle cx="333.2" cy="672.6" r="1.75"/>
<circle cx="367.3" cy="526.5" r="1.75"/>
<circle cx="369.8" cy="528.1" r="1.75"/>
<circle cx="371.8" cy="528.1" r="1.75"/>
<circle cx="369.4" cy="534.3" r="1.75"/>
<circle cx="369.4" cy="609.4" r="1.75"/>
<circle cx="369.4" cy="632" r="1.75"/>
<circle cx="371.6" cy="659.1" r="1.75"/>
<circle cx="369.4" cy="662.1" r="1.75"/>
<circle cx="369.4" cy="666.6" r="1.75"/>
<circle cx="355.0" cy="672.6" r="1.75"/>
<circle cx="357.09" cy="672.6" r="1.75"/>
<circle cx="359.17" cy="672.6" r="1.75"/>
<circle cx="361.26" cy="672.6" r="1.75"/>
<circle cx="363.34" cy="672.6" r="1.75"/>
<circle cx="365.43" cy="672.6" r="1.75"/>
<circle cx="367.51" cy="672.6" r="1.75"/>
<circle cx="369.6" cy="672.6" r="1.75"/>
<circle cx="371.69" cy="672.6" r="1.75"/>
<circle cx="373.77" cy="672.6" r="1.75"/>
<circle cx="375.86" cy="672.6" r="1.75"/>
<circle cx="377.94" cy="672.6" r="1.75"/>
<circle cx="380.03" cy="672.6" r="1.75"/>
<circle cx="382.11" cy="672.6" r="1.75"/>
<circle cx="384.2" cy="672.6" r="1.75"/>
<circle cx="406.0" cy="522.1" r="1.75"/>
<circle cx="408.07" cy="522.1" r="1.75"/>
<circle cx="410.13" cy="522.1" r="1.75"/>
<circle cx="412.2" cy="522.1" r="1.75"/>
<circle cx="414.27" cy="522.1" r="1.75"/>
<circle cx="416.33" cy="522.1" r="1.75"/>
<circle cx="418.4" cy="522.1" r="1.75"/>
<circle cx="420.47" cy="522.1" r="1.75"/>
<circle cx="422.53" cy="522.1" r="1.75"/>
<circle cx="424.6" cy="522.1" r="1.75"/>
<circle cx="426.67" cy="522.1" r="1.75"/>
<circle cx="428.73" cy="522.1" r="1.75"/>
<circle cx="430.8" cy="522.1" r="1.75"/>
<circle cx="432.87" cy="522.1" r="1.75"/>
<circle cx="434.93" cy="522.1" r="1.75"/>
<circle cx="437.0" cy="522.1" r="1.75"/>
<circle cx="411.5" cy="523.9" r="1.75"/>
<circle cx="423.4" cy="524.9" r="1.75"/>
<circle cx="421.4" cy="528.1" r="1.75"/>
<circle cx="421.4" cy="534.3" r="1.75"/>
<circle cx="423.4" cy="540.2" r="1.75"/>
<circle cx="421.4" cy="541.8" r="1.75"/>
<circle cx="421.4" cy="550.7" r="1.75"/>
<circle cx="421.4" cy="561.2" r="1.75"/>
<circle cx="421.4" cy="604.8" r="1.75"/>
<circle cx="421.4" cy="628.8" r="1.75"/>
<circle cx="421.4" cy="660.7" r="1.75"/>
<circle cx="457.8" cy="522.1" r="1.75"/>
<circle cx="462.2" cy="522.1" r="1.75"/>
<circle cx="466.8" cy="522.1" r="1.75"/>
<circle cx="475.7" cy="522.1" r="1.75"/>
<circle cx="480.2" cy="522.1" r="1.75"/>
<circle cx="484.6" cy="522.1" r="1.75"/>
<circle cx="489.1" cy="522.1" r="1.75"/>
<circle cx="471.3" cy="523.7" r="1.75"/>
<circle cx="473.2" cy="650.1" r="1.75"/>
<line x1="92" y1="672.3" x2="127" y2="672.3" stroke="#000" stroke-width="1.5"/>
<line x1="144.4" y1="579.3" x2="178.9" y2="579.3" stroke="#000" stroke-width="1.5"/>
<line x1="196.3" y1="660.7" x2="231.1" y2="660.7" stroke="#000" stroke-width="1.5"/>
<line x1="248" y1="672.3" x2="283" y2="672.3" stroke="#000" stroke-width="1.5"/>
<line x1="300.4" y1="552.2" x2="334.7" y2="552.2" stroke="#000" stroke-width="1.5"/>
<line x1="352.3" y1="672.3" x2="387.1" y2="672.3" stroke="#000" stroke-width="1.5"/>
<line x1="404.2" y1="522.1" x2="439" y2="522.1" stroke="#000" stroke-width="1.5"/>
<line x1="456.2" y1="522.1" x2="491" y2="522.1" stroke="#000" stroke-width="1.5"/>
<line x1="75" y1="552.4" x2="502" y2="552.4" stroke="#000" stroke-width="1.25" stroke-dasharray="3.2 1.224" stroke-dashoffset="0.45"/></g></svg>
</body></html>
